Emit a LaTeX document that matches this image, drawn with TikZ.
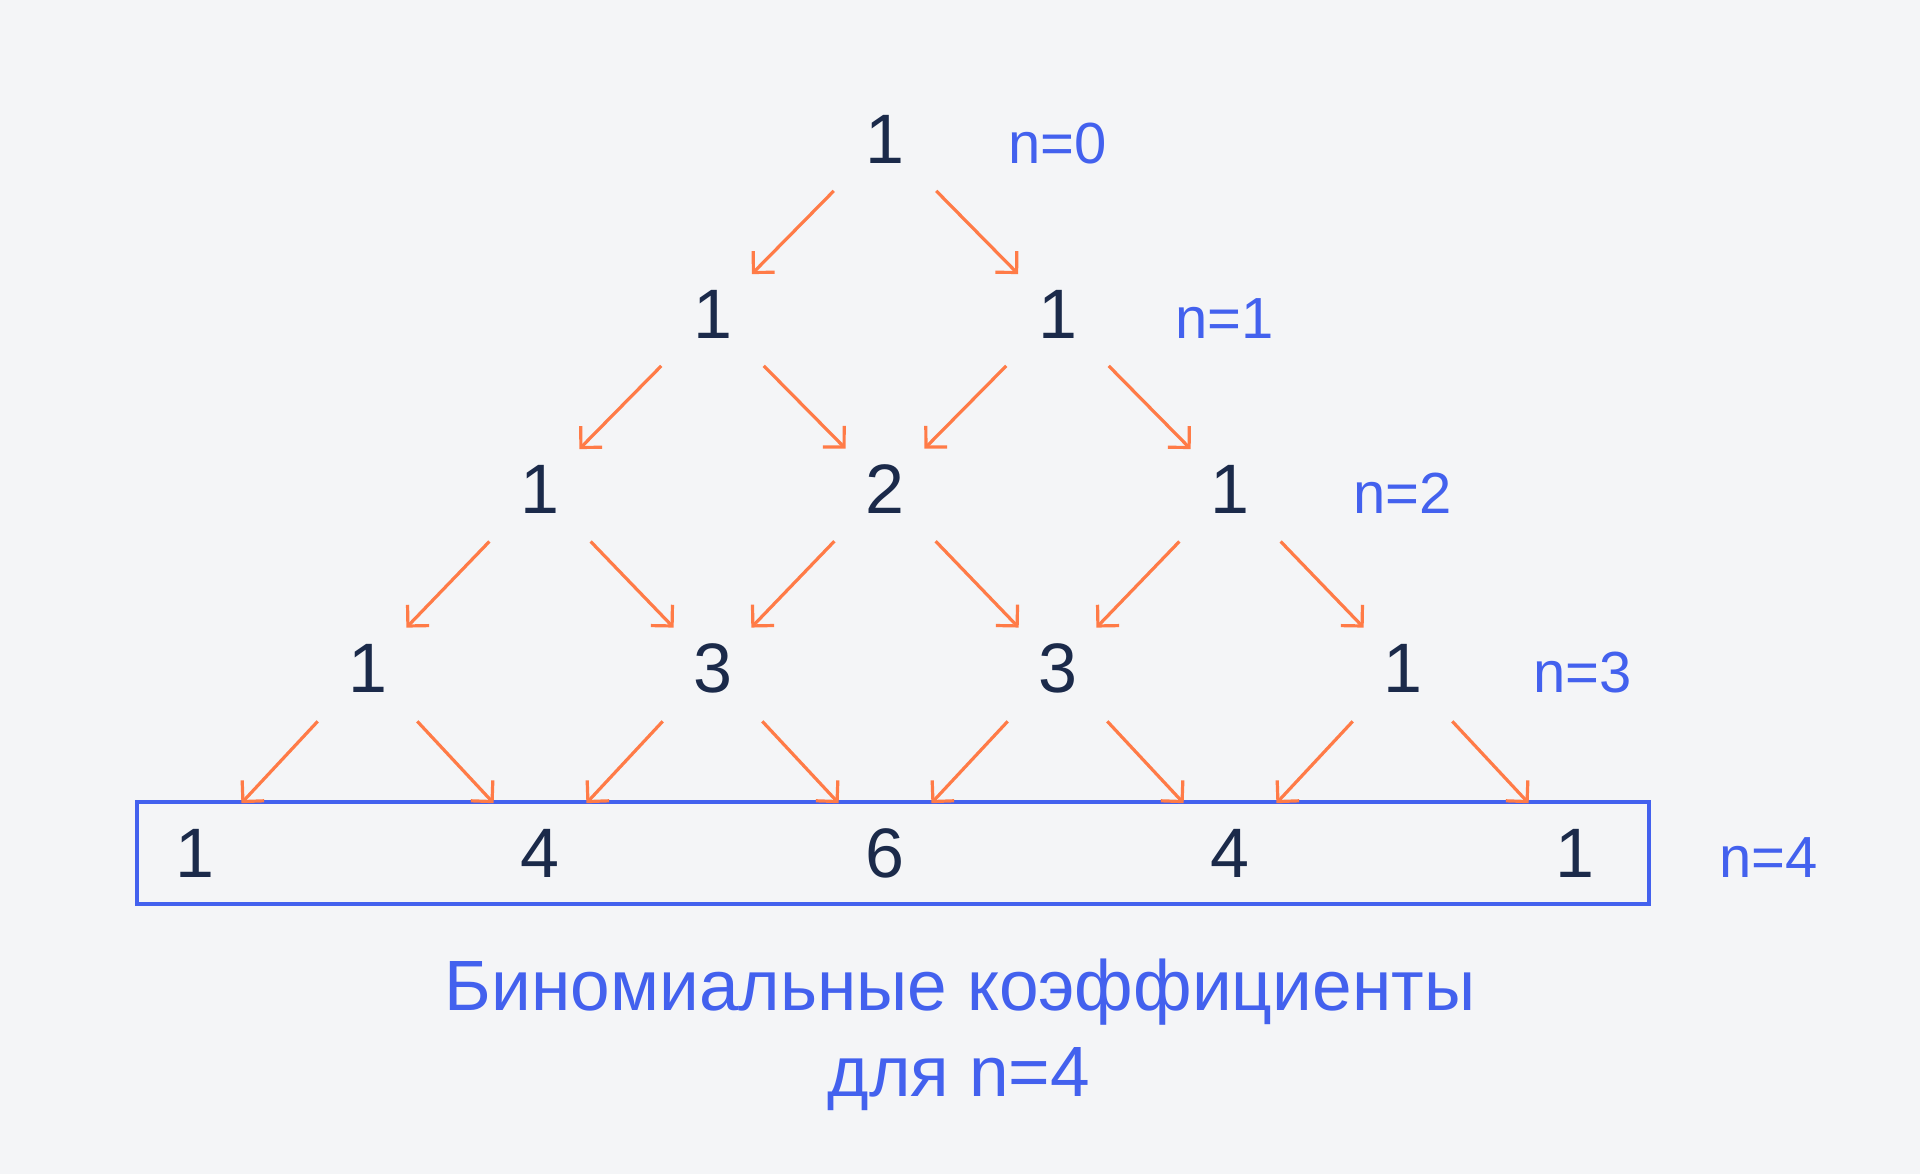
\documentclass[tikz,border=0pt]{standalone}
\usepackage{fontspec}
\setmainfont{Liberation Sans}
\usetikzlibrary{arrows.meta}
\definecolor{bg}{HTML}{F4F5F7}
\definecolor{ink}{HTML}{1B2A4A}
\definecolor{royal}{HTML}{4361EE}
\definecolor{coral}{HTML}{FF7B47}
\tikzset{
	num/.style={text=ink,font=\fontsize{35}{42}\selectfont,inner sep=0pt,anchor=base},
	lbl/.style={text=royal,font=\fontsize{29}{35}\selectfont,inner sep=0pt,anchor=base west},
	arr/.style={coral,line width=1.6pt,-{Straight Barb[length=7.5pt,width=15pt]},shorten <=36.5pt,shorten >=28pt},
	arrlast/.style={arr,shorten >=34pt},
	frame/.style={draw=royal,line width=1.6pt,minimum width=756pt,minimum height=51pt,inner sep=0pt},
	titletext/.style={text=royal,font=\fontsize{35.6}{43}\selectfont,inner sep=0pt,anchor=base}
}
\begin{document}
\begin{tikzpicture}[x=0.5pt,y=-0.5pt]
			\fill[bg](0,0)rectangle(1920,1174);
			\useasboundingbox(0,0)rectangle(1920,1174);
			\node[num](n00)at(885,163){1};
			\node[num](n10)at(712.5,338){1};
			\node[num](n11)at(1057.5,338){1};
			\node[num](n20)at(540,513){1};
			\node[num](n21)at(885,513){2};
			\node[num](n22)at(1230,513){1};
			\node[num](n30)at(367.5,692){1};
			\node[num](n31)at(712.5,692){3};
			\node[num](n32)at(1057.5,692){3};
			\node[num](n33)at(1402.5,692){1};
			\node[num](n40)at(195,877){1};
			\node[num](n41)at(540,877){4};
			\node[num](n42)at(885,877){6};
			\node[num](n43)at(1230,877){4};
			\node[num](n44)at(1575,877){1};
			\node[lbl](l0)at(1008,163){n=0};
			\node[lbl](l1)at(1175,338){n=1};
			\node[lbl](l2)at(1353,513){n=2};
			\node[lbl](l3)at(1533,692){n=3};
			\node[lbl](l4)at(1719,877){n=4};
			\node[frame](box)at(893,853){};
			\draw[arr](n00.center)--(n10.center);
			\draw[arr](n00.center)--(n11.center);
			\draw[arr](n10.center)--(n20.center);
			\draw[arr](n10.center)--(n21.center);
			\draw[arr](n11.center)--(n21.center);
			\draw[arr](n11.center)--(n22.center);
			\draw[arr](n20.center)--(n30.center);
			\draw[arr](n20.center)--(n31.center);
			\draw[arr](n21.center)--(n31.center);
			\draw[arr](n21.center)--(n32.center);
			\draw[arr](n22.center)--(n32.center);
			\draw[arr](n22.center)--(n33.center);
			\draw[arrlast](n30.center)--(n40.center);
			\draw[arrlast](n30.center)--(n41.center);
			\draw[arrlast](n31.center)--(n41.center);
			\draw[arrlast](n31.center)--(n42.center);
			\draw[arrlast](n32.center)--(n42.center);
			\draw[arrlast](n32.center)--(n43.center);
			\draw[arrlast](n33.center)--(n43.center);
			\draw[arrlast](n33.center)--(n44.center);
			\node[titletext](line1)at(960,1010){Биномиальные коэффициенты};
			\node[titletext](line2)at(959,1096){для n=4};
		\end{tikzpicture}
\end{document}
